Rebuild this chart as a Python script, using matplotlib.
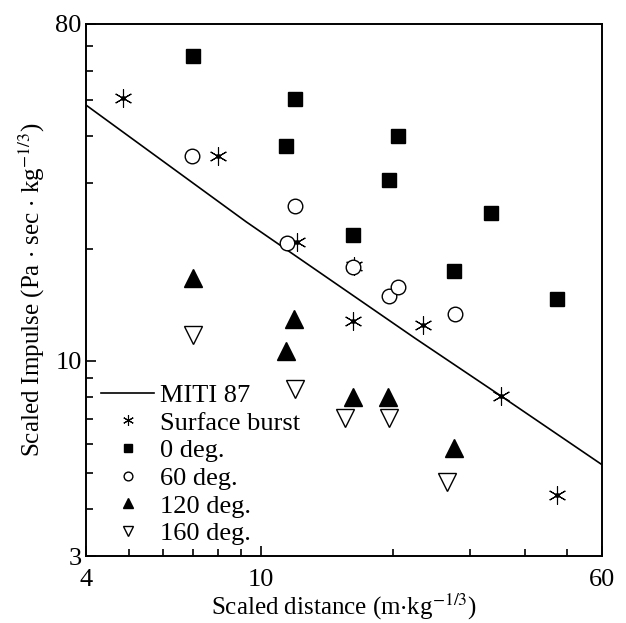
import matplotlib.pyplot as plt
from matplotlib.ticker import FixedLocator, NullFormatter

plt.rcParams['font.family'] = ['Liberation Serif', 'DejaVu Serif']
plt.rcParams['mathtext.fontset'] = 'stix'

# MITI 87 reference curve
miti_x = [4.0, 9.27, 22.5, 35.5, 60.0]
miti_y = [48.5, 23.6, 11.5, 8.02, 5.27]

# Surface burst
surf_x = [4.86, 8.0, 12.1, 16.3, 16.2, 23.5, 35.3, 47.4]
surf_y = [50.7, 35.4, 20.8, 18.0, 12.8, 12.5, 8.06, 4.37]

# 0 deg.
d0_x = [7.02, 11.98, 11.4, 20.6, 19.6, 33.5, 16.2, 27.6, 47.4]
d0_y = [65.6, 50.4, 37.7, 40.1, 30.5, 24.9, 21.7, 17.4, 14.7]

# 60 deg.
d60_x = [6.98, 12.0, 11.5, 16.2, 19.6, 20.6, 27.8]
d60_y = [35.4, 26.0, 20.7, 17.9, 14.9, 15.8, 13.4]

# 120 deg.
d120_x = [7.02, 11.9, 11.4, 16.2, 19.5, 27.6]
d120_y = [16.7, 12.95, 10.6, 8.0, 8.0, 5.84]

# 160 deg.
d160_x = [7.02, 12.0, 15.6, 19.6, 26.6]
d160_y = [11.7, 8.41, 7.03, 7.03, 4.74]

fig = plt.figure(figsize=(6.26, 6.23), dpi=100)
ax = fig.add_axes([0.1374, 0.1075, 0.8243, 0.854])

ax.plot(miti_x, miti_y, color='black', lw=1.2, label='MITI 87')
ax.plot(surf_x, surf_y, ls='none', marker=(6, 2, 0), ms=13, mec='black',
        mew=0.8, label='Surface burst')
ax.plot(surf_x, surf_y, ls='none', marker='o', ms=2.5, color='black')
ax.plot(d0_x, d0_y, ls='none', marker='s', ms=10, color='black', label='0 deg.')
ax.plot(d60_x, d60_y, ls='none', marker='o', ms=10.5, mfc='white', mec='black',
        mew=1.0, label='60 deg.')
ax.plot(d120_x, d120_y, ls='none', marker='^', ms=13, color='black',
        label='120 deg.')
ax.plot(d160_x, d160_y, ls='none', marker='v', ms=12.5, mfc='white',
        mec='black', mew=1.0, label='160 deg.')

ax.set_xscale('log')
ax.set_yscale('log')
ax.set_xlim(4, 60)
ax.set_ylim(3, 80)

ax.xaxis.set_major_locator(FixedLocator([4, 10, 60]))
ax.xaxis.set_major_formatter(plt.FixedFormatter(['4', '10', '60']))
ax.xaxis.set_minor_locator(FixedLocator([5, 6, 7, 8, 9, 20, 30, 40, 50]))
ax.xaxis.set_minor_formatter(NullFormatter())
ax.yaxis.set_major_locator(FixedLocator([3, 10, 80]))
ax.yaxis.set_major_formatter(plt.FixedFormatter(['3', '10', '80']))
ax.yaxis.set_minor_locator(FixedLocator([4, 5, 6, 7, 8, 9, 20, 30, 40, 50, 60, 70]))
ax.yaxis.set_minor_formatter(NullFormatter())

ax.tick_params(which='both', direction='in', top=False, right=False,
               labelsize=19, width=1.2, pad=3)
ax.tick_params(axis='x', which='major', pad=9)
ax.tick_params(which='major', length=7)
ax.tick_params(which='minor', length=5)
for s in ax.spines.values():
    s.set_linewidth(1.4)

ax.set_xlabel(r'Scaled distance (m$\cdot$kg$^{-1/3}$)', fontsize=18, labelpad=1)
ax.set_ylabel(r'Scaled Impulse (Pa $\cdot$ sec $\cdot$ kg$^{-1/3}$)', fontsize=18,
              labelpad=6)

ax.legend(loc='lower left', bbox_to_anchor=(0.03, 0.02), frameon=False,
          fontsize=19, borderaxespad=0, borderpad=0, handlelength=2.0,
          handletextpad=0.2, labelspacing=0.16, markerscale=0.6)

fig.savefig('out.png', dpi=100)
